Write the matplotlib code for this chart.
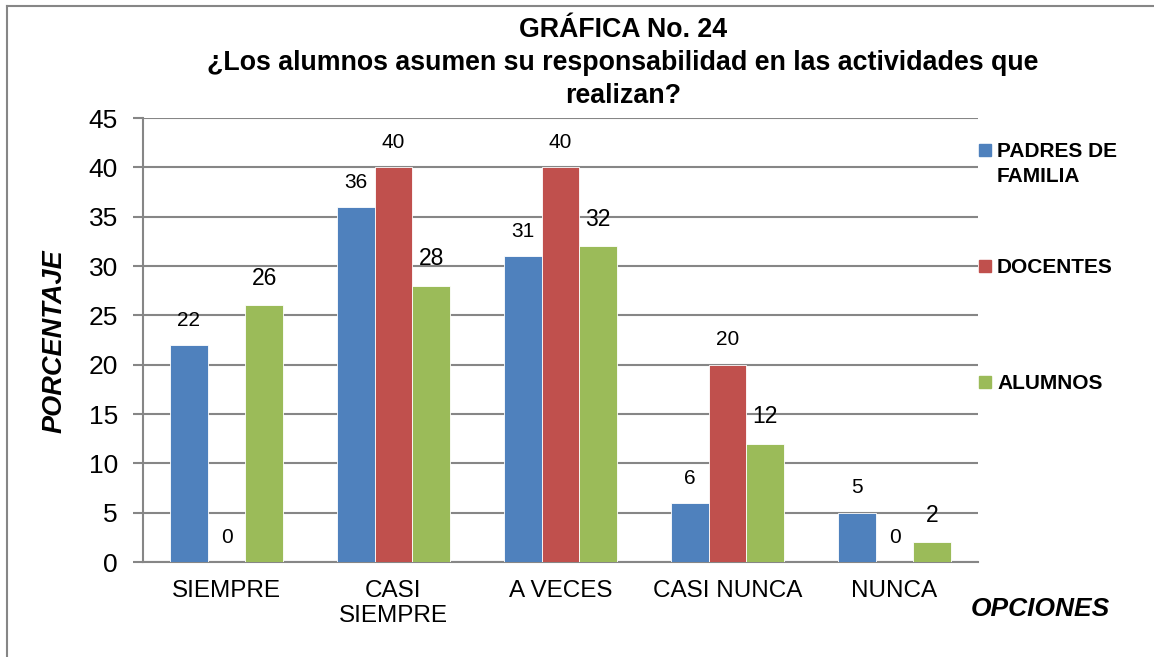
import matplotlib.pyplot as plt
import matplotlib.patches as mpatches
import numpy as np

plt.rcParams["font.family"] = ["Liberation Sans", "DejaVu Sans"]

opciones = ["SIEMPRE", "CASI\nSIEMPRE", "A VECES", "CASI NUNCA", "NUNCA"]
padres = [22, 36, 31, 6, 5]
docentes = [0, 40, 40, 20, 0]
alumnos = [26, 28, 32, 12, 2]

series = ["PADRES DE\nFAMILIA", "DOCENTES", "ALUMNOS"]
colores = ["#4F81BD", "#C0504D", "#9BBB59"]
titulo = ["GRÁFICA No. 24",
          "¿Los alumnos asumen su responsabilidad en las actividades que",
          "realizan?"]

W, H = 1154, 657
fig = plt.figure(figsize=(W / 100, H / 100), dpi=100)
ax = fig.add_axes([143 / W, 1 - 562 / H, (978 - 143) / W, (562 - 118) / H])

x = np.arange(len(opciones))
w = 0.225
tam = [15, 15, 16.5]
for i, (vals, col) in enumerate(zip([padres, docentes, alumnos], colores)):
    barras = ax.bar(x + (i - 1) * w, vals, w, color=col, edgecolor="white",
                    linewidth=0.6, zorder=3)
    ax.bar_label(barras, labels=[str(v) for v in vals], padding=11,
                 fontsize=tam[i], color="black")

ax.set_xlim(-0.5, 4.5)
ax.set_ylim(0, 45)
ax.set_yticks(range(0, 46, 5))
ax.set_xticks(x)
ax.set_xticklabels(opciones, fontsize=17.5, linespacing=1.2)
ax.tick_params(axis="x", length=0, pad=13)
ax.tick_params(axis="y", length=7, width=1.5, color="#868686",
               labelsize=19, pad=11)
ax.grid(axis="y", color="#868686", linewidth=1.5, zorder=0)
for s in ["top", "right"]:
    ax.spines[s].set_visible(False)
for s in ["left", "bottom"]:
    ax.spines[s].set_color("#868686")
    ax.spines[s].set_linewidth(1.5)

# titulo, una linea por texto
for linea, base in zip(titulo, [37, 70, 103]):
    fig.text(623 / W, 1 - base / H, linea, ha="center", va="baseline",
             fontsize=19.3, fontweight="bold")

fig.text(55 / W, 1 - 341 / H, "PORCENTAJE", rotation=90, ha="center",
         va="center", fontsize=19.5, fontweight="bold", style="italic")
fig.text(1040 / W, 1 - 609 / H, "OPCIONES", ha="center", va="center",
         fontsize=19, fontweight="bold", style="italic")

# leyenda
ley_y = [150, 266, 382]
for nom, col, yy in zip(series, colores, ley_y):
    fig.patches.append(mpatches.Rectangle((979 / W, 1 - (yy + 6) / H), 12 / W, 12 / H,
                                          transform=fig.transFigure, color=col))
    for k, parte in enumerate(nom.split("\n")):
        fig.text(997 / W, 1 - (yy + 7 + 25 * k) / H, parte, ha="left",
                 va="baseline", fontsize=15, fontweight="bold")

# marco
fig.add_artist(plt.Line2D([7 / W, 7 / W], [0, 1 - 6 / H], color="#868686", lw=1.5))
fig.add_artist(plt.Line2D([7 / W, 1], [1 - 6 / H, 1 - 6 / H], color="#868686", lw=1.5))

fig.savefig("out.png", dpi=100)
